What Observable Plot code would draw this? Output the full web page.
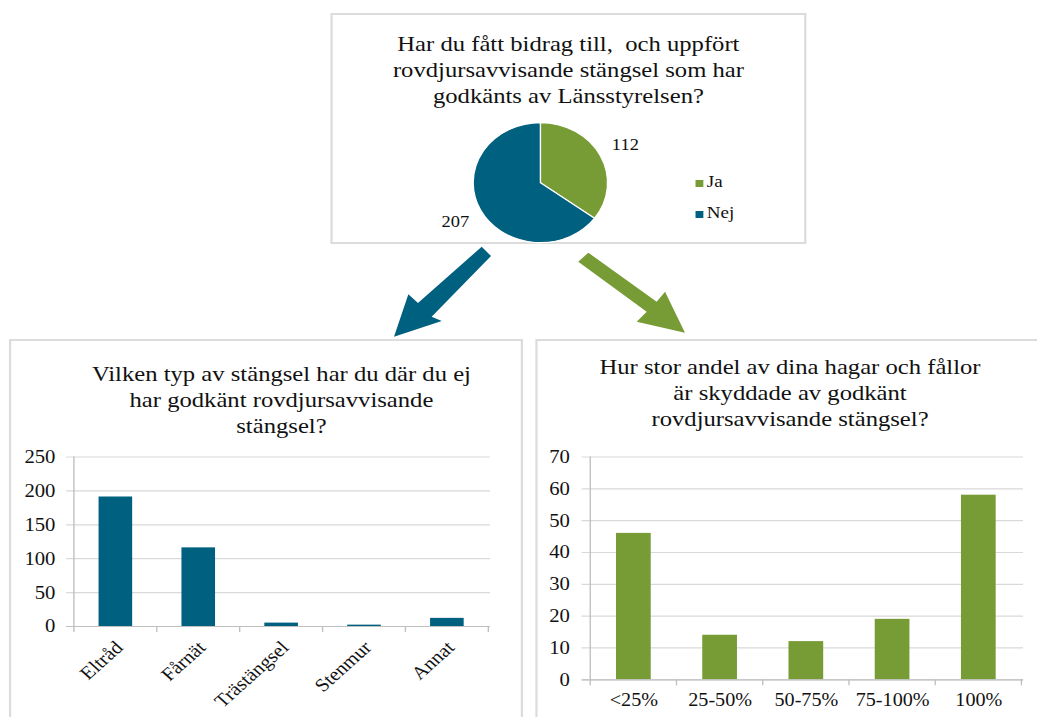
<!DOCTYPE html>
<html>
<head>
<meta charset="utf-8">
<script src="https://cdn.jsdelivr.net/npm/d3@7"></script>
<script src="https://cdn.jsdelivr.net/npm/@observablehq/plot@0.6"></script>
<style>
html,body{margin:0;padding:0;background:#fff;}
#viewport{width:1037px;height:717px;overflow:hidden;position:relative;background:#fff;}
#page{position:absolute;left:0;top:0;width:926px;height:717px;transform:scaleX(1.12);transform-origin:0 0;font-family:"Liberation Serif","Times New Roman",serif;color:#111;}
.panel{position:absolute;border:2px solid #dcdcdc;box-sizing:border-box;background:#fff;}
.title{position:absolute;text-align:center;font-size:22px;line-height:26px;white-space:pre;transform:translateX(-50%);color:#111;}
.legend{position:absolute;font-size:17px;color:#111;}
.legend .row{display:flex;align-items:center;height:31px;}
.legend .sw{width:7px;height:7px;margin-right:3.5px;margin-top:3px;}
</style>
</head>
<body>
<div id="viewport"><div id="page"></div></div>
<script>
// ---------- data ----------
const pieCategories = ["Ja", "Nej"];
const pieValues = [112, 207];
const pieTitle = ["Har du fått bidrag till,  och uppfört", "rovdjursavvisande stängsel som har", "godkänts av Länsstyrelsen?"];

const fenceTypes = ["Eltråd", "Fårnät", "Trästängsel", "Stenmur", "Annat"];
const fenceCounts = [191, 116, 5, 2, 12];
const fenceTicks = [0, 50, 100, 150, 200, 250];
const fenceTitle = ["Vilken typ av stängsel har du där du ej", "har godkänt rovdjursavvisande", "stängsel?"];

const shareBins = ["<25%", "25-50%", "50-75%", "75-100%", "100%"];
const shareCounts = [46, 14, 12, 19, 58];
const shareTicks = [0, 10, 20, 30, 40, 50, 60, 70];
const shareTitle = ["Hur stor andel av dina hagar och fållor", "är skyddade av godkänt", "rovdjursavvisande stängsel?"];

// ---------- style ----------
const FONT = '"Liberation Serif","Times New Roman",serif';
const teal = "#00607f";
const green = "#789c35";
const gridColor = "#d9d9d9";
const axisColor = "#bfbfbf";

const page = document.getElementById("page");

function addPanel(left, top, width, height) {
  const d = document.createElement("div");
  d.className = "panel";
  Object.assign(d.style, {left: left + "px", top: top + "px", width: width + "px", height: height + "px"});
  page.appendChild(d);
}
function addTitle(lines, cx, top) {
  const d = document.createElement("div");
  d.className = "title";
  d.style.left = cx + "px";
  d.style.top = top + "px";
  d.textContent = lines.join("\n");
  page.appendChild(d);
}
function addSvg(svg, left, top) {
  svg.style.position = "absolute";
  svg.style.left = left + "px";
  svg.style.top = top + "px";
  page.appendChild(svg);
}

// ---------- arrows (decorative) ----------
const ns = "http://www.w3.org/2000/svg";
const arrows = document.createElementNS(ns, "svg");
arrows.setAttribute("width", 926);
arrows.setAttribute("height", 717);
arrows.style.position = "absolute";
arrows.style.left = "0px";
arrows.style.top = "0px";
[
  {fill: teal, pts: "430.1,246.7 438.4,256 385.4,316.7 394.4,321 351.8,336.7 364.6,294.3 373.2,303"},
  {fill: green, pts: "516.3,261.7 525.3,252.7 586.3,301.7 593.8,291.7 611.6,332.7 568.5,321.7 577.4,311.7"}
].forEach(a => {
  const p = document.createElementNS(ns, "polygon");
  p.setAttribute("points", a.pts);
  p.setAttribute("fill", a.fill);
  arrows.appendChild(p);
});
page.appendChild(arrows);

// ---------- panels ----------
addPanel(294.6, 13, 425.5, 231);
addPanel(8, 339, 458.5, 420);
addPanel(477.7, 339, 470, 420);

// ---------- pie ----------
const pieData = pieCategories.map((c, i) => ({category: c, value: pieValues[i]}));
const pieColor = Plot.scale({color: {type: "ordinal", domain: pieCategories, range: [green, teal]}});

function pieMark(cx, cy, r, labelR) {
  return () => {
    const g = d3.create("svg:g").attr("transform", `translate(${cx},${cy})`);
    const arcs = d3.pie().sort(null).value(d => d.value)(pieData);
    const arc = d3.arc().innerRadius(0).outerRadius(r);
    const labelArc = d3.arc().innerRadius(labelR).outerRadius(labelR);
    g.selectAll("path").data(arcs).join("path")
      .attr("d", arc)
      .attr("fill", d => pieColor.apply(d.data.category))
      .attr("stroke", "#fff")
      .attr("stroke-width", 1.2);
    g.selectAll("text").data(arcs).join("text")
      .attr("x", d => labelArc.centroid(d)[0])
      .attr("y", d => labelArc.centroid(d)[1])
      .attr("text-anchor", "middle")
      .attr("dy", "0.35em")
      .attr("font-size", 16.5)
      .attr("fill", "#111")
      .text(d => d.data.value);
    return g.node();
  };
}

const pieSvg = Plot.plot({
  width: 425, height: 134, margin: 0,
  style: {fontFamily: FONT, background: "transparent", overflow: "visible"},
  marks: [pieMark(187.5, 72.7, 60, 85)]
});
addSvg(pieSvg, 294.6, 110);
addTitle(pieTitle, 507.5, 31);

// legend
const legend = document.createElement("div");
legend.className = "legend";
legend.style.left = "620.5px";
legend.style.top = "166px";
pieCategories.forEach(c => {
  const row = document.createElement("div");
  row.className = "row";
  const sw = document.createElement("span");
  sw.className = "sw";
  sw.style.background = pieColor.apply(c);
  const t = document.createElement("span");
  t.textContent = c;
  row.appendChild(sw);
  row.appendChild(t);
  legend.appendChild(row);
});
page.appendChild(legend);

// ---------- bar charts ----------
function bandFrame(domain, ymax) {
  return (index, scales) => {
    const x = scales.x, y = scales.y;
    const step = x(domain[1]) - x(domain[0]);
    const bw = typeof x.bandwidth === "function" ? x.bandwidth() : step * 0.4;
    const edges = domain.map(d => x(d) - (step - bw) / 2);
    edges.push(edges[edges.length - 1] + step);
    const y0 = y(0);
    const g = d3.create("svg:g").attr("stroke", axisColor).attr("stroke-width", 1.2);
    g.append("line").attr("x1", edges[0]).attr("x2", edges[0]).attr("y1", y(ymax)).attr("y2", y0);
    g.selectAll("line.t").data(edges).join("line").attr("class", "t")
      .attr("x1", d => d).attr("x2", d => d).attr("y1", y0).attr("y2", y0 + 6);
    return g.node();
  };
}

const fenceData = fenceTypes.map((t, i) => ({type: t, count: fenceCounts[i]}));
const fenceSvg = Plot.plot({
  width: 466, height: 277,
  marginLeft: 64, marginRight: 28.5, marginTop: 16.5, marginBottom: 91,
  style: {fontFamily: FONT, fontSize: "18.5px", color: "#111", background: "transparent", overflow: "visible"},
  x: {domain: fenceTypes, paddingInner: 0.6, paddingOuter: 0.3},
  y: {domain: [0, 250]},
  marks: [
    Plot.ruleY(fenceTicks, {stroke: gridColor, strokeWidth: 1.2, insetLeft: -5}),
    Plot.barY(fenceData, {x: "type", y: "count", fill: teal}),
    Plot.ruleY([0], {stroke: axisColor, strokeWidth: 1.2, insetLeft: -5}),
    bandFrame(fenceTypes, 250),
    Plot.axisY({ticks: fenceTicks, tickSize: 0, tickPadding: 15, label: null}),
    Plot.axisX({tickSize: 0, tickPadding: 18, tickRotate: -45, label: null, dx: 3})
  ]
});
addSvg(fenceSvg, 0, 440);
addTitle(fenceTitle, 251.3, 361);

const shareData = shareBins.map((b, i) => ({bin: b, count: shareCounts[i]}));
const shareSvg = Plot.plot({
  width: 449, height: 277,
  marginLeft: 48.3, marginRight: 12.6, marginTop: 16.5, marginBottom: 37.7,
  style: {fontFamily: FONT, fontSize: "18.5px", color: "#111", background: "transparent", overflow: "visible"},
  x: {domain: shareBins, paddingInner: 0.6, paddingOuter: 0.3},
  y: {domain: [0, 70]},
  marks: [
    Plot.ruleY(shareTicks, {stroke: gridColor, strokeWidth: 1.2, insetLeft: -6}),
    Plot.barY(shareData, {x: "bin", y: "count", fill: green}),
    Plot.ruleY([0], {stroke: axisColor, strokeWidth: 1.2, insetLeft: -6}),
    bandFrame(shareBins, 70),
    Plot.axisY({ticks: shareTicks, tickSize: 0, tickPadding: 17, label: null}),
    Plot.axisX({tickSize: 0, tickPadding: 13, label: null, fontSize: 18})
  ]
});
addSvg(shareSvg, 477, 440);
addTitle(shareTitle, 705.4, 354);
</script>
</body>
</html>
